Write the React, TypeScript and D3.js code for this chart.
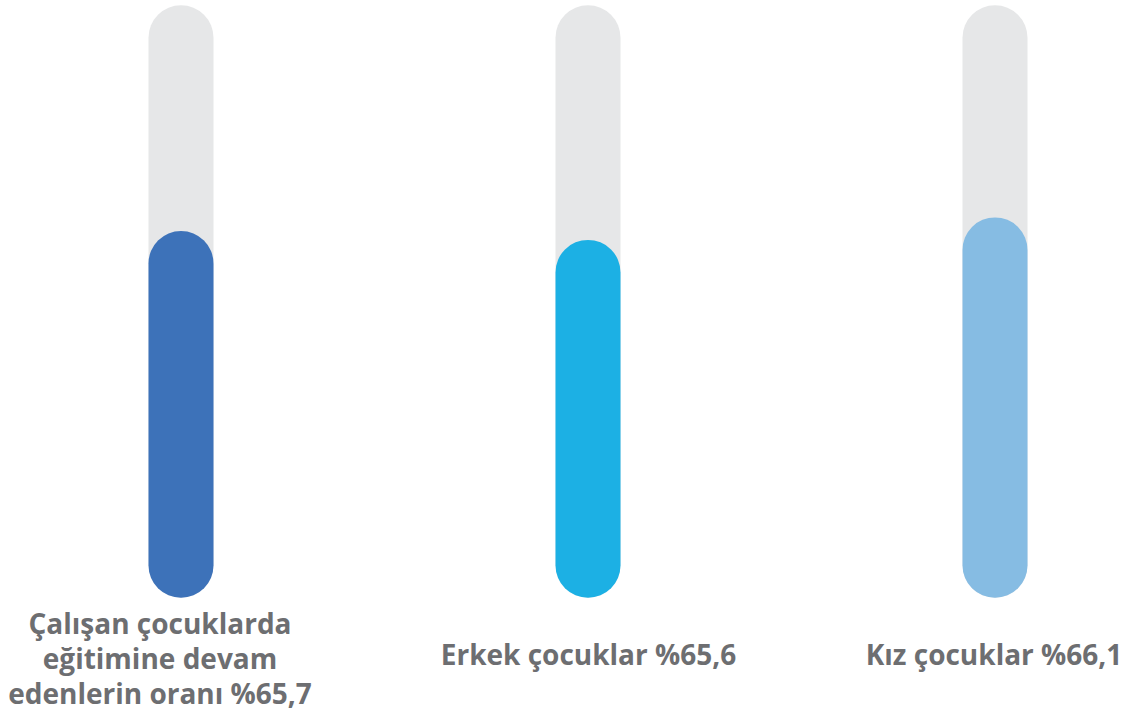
import React from "react";
import * as d3 from "d3";

const categories = ["total", "boys", "girls"];
const labelLines = [
  ["Çalışan çocuklarda", "eğitimine devam", "edenlerin oranı %65,7"],
  ["Erkek çocuklar %65,6"],
  ["Kız çocuklar %66,1"],
];
// fill level of each thermometer bar, in % of the track
const fillLevels = [61.9, 60.4, 64.2];
const barColors = ["#3d72b9", "#1cb0e4", "#86bce3"];
const labelCenters = [160, 588.5, 994];

const W = 1124;
const H = 720;

export default function App() {
  const x = d3
    .scalePoint<string>()
    .domain(categories)
    .range([181, 995]);
  const y = d3.scaleLinear().domain([0, 100]).range([597.7, 5.3]);
  const bw = 65;
  const r = bw / 2;

  const pill = (cx: number, top: number, bottom: number) => {
    const p = d3.path();
    const x0 = cx - r;
    const x1 = cx + r;
    p.moveTo(x0, top + r);
    p.arc(cx, top + r, r, Math.PI, 0);
    p.lineTo(x1, bottom - r);
    p.arc(cx, bottom - r, r, 0, Math.PI);
    p.closePath();
    return p.toString();
  };

  return (
    <svg
      width={W}
      height={H}
      style={{ position: "absolute", left: 0, top: 0, background: "#fff" }}
    >
      {categories.map((c, i) => {
        const cx = x(c)!;
        return (
          <g key={c}>
            <path d={pill(cx, y(100), y(0))} fill="#e6e7e8" />
            <path d={pill(cx, y(fillLevels[i]), y(0))} fill={barColors[i]} />
          </g>
        );
      })}
      {labelLines.map((lines, i) => {
        const lh = 35;
        const mid = 669;
        const start = mid - ((lines.length - 1) * lh) / 2 - (lines.length === 1 ? 4 : 0);
        return (
          <text
            key={i}
            textAnchor="middle"
            fontFamily="'Open Sans', sans-serif"
            fontWeight={700}
            fontSize={28}
            fill="#6d6e71"
          >
            {lines.map((l, j) => (
              <tspan key={j} x={labelCenters[i]} y={start + j * lh}>
                {l}
              </tspan>
            ))}
          </text>
        );
      })}
    </svg>
  );
}
